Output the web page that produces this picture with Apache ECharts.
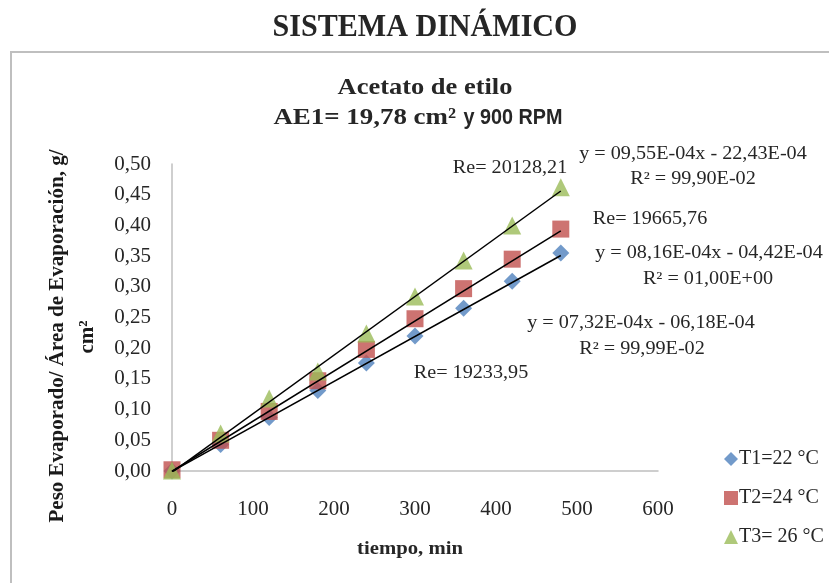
<!DOCTYPE html>
<html lang="es">
<head>
	<meta charset="UTF-8">
	<title>Sistema dinamico</title>
	<style>
		html, body { margin: 0; padding: 0; background: #fff; }
	</style>
</head>
<body>
	<div id="main" style="width: 829px;height: 583px"></div>
	<script src="https://cdn.jsdelivr.net/npm/echarts@6/dist/echarts.min.js"></script>
	<script>
		// tiempo (min) de cada lectura
		var tiempo = [0, 60, 120, 180, 240, 300, 360, 420, 480]
		// peso evaporado / area, g/cm2
		var t1 = [0.000, 0.043, 0.087, 0.131, 0.176, 0.220, 0.265, 0.309, 0.355]
		var t2 = [0.002, 0.050, 0.097, 0.147, 0.198, 0.248, 0.297, 0.345, 0.394]
		var t3 = [0.001, 0.061, 0.118, 0.162, 0.224, 0.284, 0.343, 0.400, 0.462]
		var nombres = ['T1=22 °C', 'T2=24 °C', 'T3= 26 °C']
		// extremos de las lineas de tendencia (x = 0 y x = 480)
		var tend1 = [-0.0006, 0.351]
		var tend2 = [-0.0004, 0.391]
		var tend3 = [-0.0022, 0.456]
		var xTicks = [0, 100, 200, 300, 400, 500, 600]
		var yTicks = [0, 0.05, 0.10, 0.15, 0.20, 0.25, 0.30, 0.35, 0.40, 0.45, 0.50]

		var serif = "'Liberation Serif', 'Times New Roman', serif"
		var sans = "'Liberation Sans', Arial, sans-serif"

		function pares(ys) {
			return tiempo.map(function (x, i) { return [x, ys[i]] })
		}
		function tendencia(t) {
			return [[tiempo[0], t[0]], [tiempo[tiempo.length - 1], t[1]]]
		}
		// texto suelto; sx estira en horizontal como en la imagen original
		function txt(x, y, s, font, sx, align) {
			return {
				type: 'text', x: x, y: y, scaleX: sx || 1.09, z: 10,
				style: { text: s, fill: '#262626', font: font || '18.5px ' + serif, textAlign: align || 'center', textVerticalAlign: 'middle' }
			}
		}

		var myChart = echarts.init(document.getElementById('main'));
		var option = {
			animation: false,
			color: ['#4F81BD', '#C0504D', '#9BBB59'],
			grid: { left: 172, right: 171, top: 164, bottom: 112 },
			legend: {
				data: nombres,
				orient: 'vertical',
				left: 719,
				top: 444,
				itemGap: 19,
				itemWidth: 14,
				itemHeight: 14,
				textStyle: { fontFamily: serif, fontSize: 20, color: '#262626', padding: [0, 0, 0, -4] }
			},
			xAxis: {
				type: 'value',
				min: xTicks[0],
				max: xTicks[xTicks.length - 1],
				interval: 100,
				splitLine: { show: false },
				axisTick: { show: false },
				axisLine: { lineStyle: { color: '#bfbfbf', width: 1.5 } },
				axisLabel: { margin: 28, fontFamily: serif, fontSize: 21, color: '#262626' }
			},
			yAxis: {
				type: 'value',
				min: yTicks[0],
				max: yTicks[yTicks.length - 1],
				interval: 0.05,
				splitLine: { show: false },
				axisTick: { show: false },
				axisLine: { show: true, lineStyle: { color: '#bfbfbf', width: 1.5 } },
				axisLabel: {
					margin: 21, fontFamily: serif, fontSize: 21, color: '#262626',
					formatter: function (v) { return v.toFixed(2).replace('.', ',') }
				}
			},
			series: [
				{ name: nombres[0], type: 'scatter', symbol: 'diamond', symbolSize: 17, data: pares(t1), z: 2 },
				{ name: nombres[1], type: 'scatter', symbol: 'rect', symbolSize: 17, data: pares(t2), z: 3 },
				{ name: nombres[2], type: 'scatter', symbol: 'triangle', symbolSize: 18, data: pares(t3), z: 4 },
				{ type: 'line', data: tendencia(tend1), symbol: 'none', lineStyle: { color: '#000', width: 1.5 }, z: 5 },
				{ type: 'line', data: tendencia(tend2), symbol: 'none', lineStyle: { color: '#000', width: 1.5 }, z: 5 },
				{ type: 'line', data: tendencia(tend3), symbol: 'none', lineStyle: { color: '#000', width: 1.5 }, z: 5 }
			],
			graphic: [
				{ type: 'rect', shape: { x: 11, y: 52, width: 840, height: 560 }, style: { fill: 'none', stroke: '#bfbfbf', lineWidth: 2 }, z: 0 },
				txt(425, 28, 'SISTEMA DINÁMICO', 'bold 31px ' + serif, 0.97),
				txt(425, 88, 'Acetato de etilo', 'bold 23px ' + serif, 1.15),
				txt(456, 118, 'AE1= 19,78 cm²', 'bold 23px ' + serif, 1.17, 'right'),
				txt(458, 118, ' y 900 RPM', 'bold 22px ' + sans, 0.9, 'left'),
				txt(410, 549, 'tiempo, min', 'bold 18px ' + serif, 1.15),
				{ type: 'text', x: 58, y: 336, rotation: Math.PI / 2, z: 10,
					style: { text: 'Peso Evaporado/ Área de Evaporación, g/', font: 'bold 21px ' + serif, fill: '#1a1a1a', textAlign: 'center', textVerticalAlign: 'middle' } },
				{ type: 'text', x: 88, y: 337, rotation: Math.PI / 2, z: 10,
					style: { text: 'cm²', font: 'bold 21px ' + serif, fill: '#1a1a1a', textAlign: 'center', textVerticalAlign: 'middle' } },
				txt(510, 168, 'Re= 20128,21'),
				txt(693, 154, 'y = 09,55E-04x - 22,43E-04'),
				txt(693, 179, 'R² = 99,90E-02'),
				txt(650, 219, 'Re= 19665,76'),
				txt(709, 253, 'y = 08,16E-04x - 04,42E-04'),
				txt(708, 279, 'R² = 01,00E+00'),
				txt(641, 323, 'y = 07,32E-04x - 06,18E-04'),
				txt(642, 349, 'R² = 99,99E-02'),
				txt(471, 373, 'Re= 19233,95')
			]
		};
		myChart.setOption(option);
	</script>
</body>
</html>
